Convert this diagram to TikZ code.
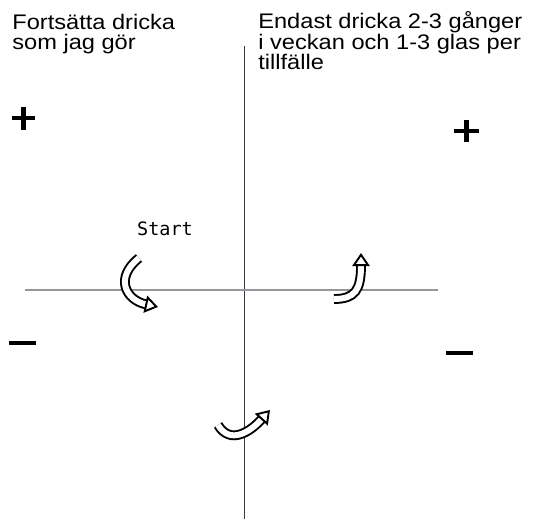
\documentclass[tikz,border=0pt]{standalone}
\usepackage{fontspec}
\usetikzlibrary{arrows.meta}
\newfontfamily\etikettfont{Liberation Sans}[FakeStretch=1.12]
\newfontfamily\monofont{DejaVu Sans Mono}
\definecolor{axel}{HTML}{3A3A40}
\definecolor{linje}{HTML}{9C949C}
\tikzset{
  etikett/.style={align=left, inner sep=0pt, font=\etikettfont\fontsize{12pt}{11.8pt}\selectfont},
  pil/.style={line width=1.1pt, double=white, double distance=3.4pt,
              -{Triangle[fill=white, length=7.4pt, width=9.8pt]}},
  tecken/.style={line width=2.3pt, draw=black},
}
\begin{document}
\begin{tikzpicture}[x=0.2mm, y=-0.2mm]
  \useasboundingbox (0,0) rectangle (549,519);
  % axes
  \draw[line width=1.1pt, draw=axel] (244.5,46) coordinate (topp) -- (244.5,519) coordinate (botten);
  \draw[line width=0.8pt, draw=linje] (25,290) coordinate (vkant) -- (438,290) coordinate (hkant);
  % texts
  \node[etikett, anchor=base west] (vanster) at (12,50) {Fortsätta dricka\\som jag gör};
  \node[etikett, anchor=base west] (hoger) at (258,70)
        {Endast dricka 2-3 gånger\\i veckan och 1-3 glas per\\tillfälle};
  \node[font=\monofont\fontsize{10.5pt}{12pt}\selectfont, inner sep=0pt] (start) at (165,229) {Start};
  % plus and minus
  \draw[tecken] (12,118) -- (35,118) (23.5,107) -- (23.5,130);
  \draw[tecken] (454,131) -- (479,131) (466.5,120) -- (466.5,142);
  \draw[tecken] (9,343) -- (36,343);
  \draw[tecken] (446,353) -- (473,353);
  % curved arrows
  \draw[pil] (139,258) .. controls (114,278) and (126,300) .. (158,307);
  \draw[pil] (334,299) .. controls (355,299) and (361,290) .. (361,253);
  \draw[pil] (218,425) .. controls (230,445) and (250,432) .. (270,410);
\end{tikzpicture}
\end{document}
